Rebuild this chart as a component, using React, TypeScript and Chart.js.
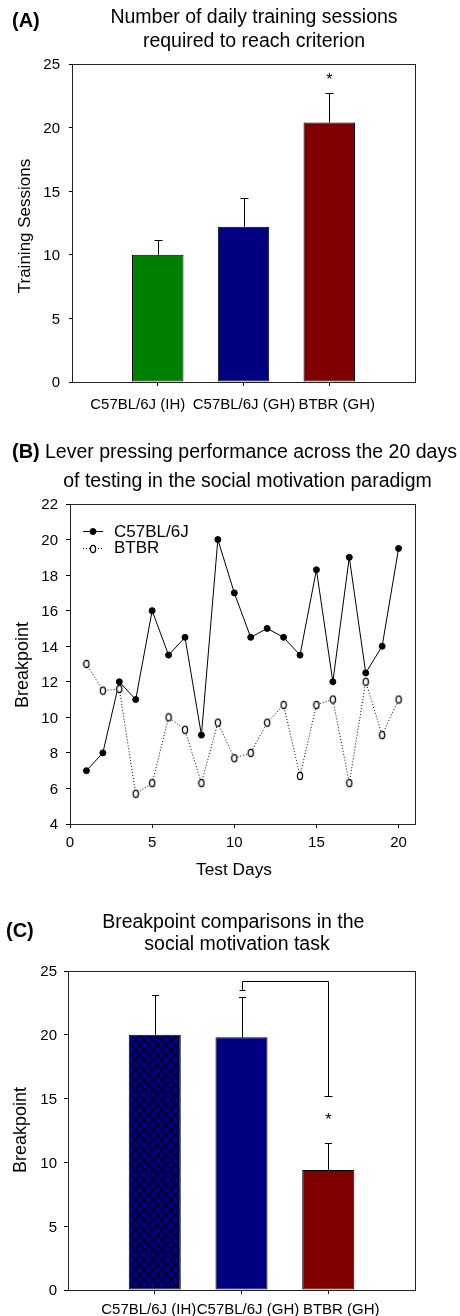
import React, { useEffect, useRef } from 'react';
import { Chart, registerables } from 'chart.js';

Chart.register(...registerables);

const FONT = '"Liberation Sans", Arial, Helvetica, sans-serif';

// ---------- shared categories ----------
const groups = ['C57BL/6J (IH)', 'C57BL/6J (GH)', 'BTBR (GH)'];
const groupPositions = [1, 2, 3];
const barColorsA = ['#008000', '#000080', '#800000'];

// ---------- panel A ----------
const sessionsMean = [10.0, 12.2, 20.4];
const sessionsUpper = [11.15, 14.45, 22.7];
const sessionsTicks = [0, 5, 10, 15, 20, 25];
const sessionsStar = [3, 24.05];

// ---------- panel B ----------
const testDays = [1, 2, 3, 4, 5, 6, 7, 8, 9, 10, 11, 12, 13, 14, 15, 16, 17, 18, 19, 20];
const c57Breakpoint = [7, 8, 12, 11, 16, 13.5, 14.5, 9, 20, 17, 14.5, 15, 14.5, 13.5, 18.3, 12, 19, 12.5, 14, 19.5];
const btbrBreakpoint = [13, 11.5, 11.6, 5.7, 6.3, 10, 9.3, 6.3, 9.7, 7.7, 8, 9.7, 10.7, 6.7, 10.7, 11, 6.3, 12, 9, 11];
const dayTicks = [0, 5, 10, 15, 20];
const breakpointTicksB = [4, 6, 8, 10, 12, 14, 16, 18, 20, 22];
const seriesNames = ['C57BL/6J', 'BTBR'];

// ---------- panel C ----------
const breakpointMean = [20.0, 19.8, 9.4];
const breakpointUpper = [23.1, 22.95, 11.5];
const breakpointTicksC = [0, 5, 10, 15, 20, 25];
const bracketGroups = [2, 3];
const bracketTop = 24.2;
const bracketEnds = [23.5, 15.2];
const breakpointStar = [3, 13.65];

// ---------- helpers ----------
function drawText(
  ctx: CanvasRenderingContext2D,
  s: string,
  x: number,
  y: number,
  size: number,
  align: CanvasTextAlign = 'center',
  bold = false,
  rotate = false
) {
  ctx.save();
  ctx.font = `${bold ? 'bold ' : ''}${size}px ${FONT}`;
  ctx.fillStyle = '#000';
  ctx.textAlign = align;
  ctx.textBaseline = 'alphabetic';
  ctx.translate(x, y);
  if (rotate) ctx.rotate(-Math.PI / 2);
  ctx.fillText(s, 0, 0);
  ctx.restore();
}

function drawFrame(chart: any) {
  const { left, top, right, bottom } = chart.chartArea;
  const ctx = chart.ctx as CanvasRenderingContext2D;
  ctx.save();
  ctx.strokeStyle = '#222';
  ctx.lineWidth = 1;
  ctx.strokeRect(Math.round(left) + 0.5, Math.round(top) + 0.5, Math.round(right - left), Math.round(bottom - top));
  ctx.restore();
}

function drawErrorBars(chart: any, positions: number[], means: number[], uppers: number[], capHalf: number) {
  const ctx = chart.ctx as CanvasRenderingContext2D;
  const xs = chart.scales.x;
  const ys = chart.scales.y;
  ctx.save();
  ctx.strokeStyle = '#000';
  ctx.lineWidth = 1;
  positions.forEach((p, i) => {
    const x = Math.round(xs.getPixelForValue(p)) + 0.5;
    const y0 = ys.getPixelForValue(means[i]);
    const y1 = Math.round(ys.getPixelForValue(uppers[i])) + 0.5;
    ctx.beginPath();
    ctx.moveTo(x, y0);
    ctx.lineTo(x, y1);
    ctx.moveTo(x - capHalf, y1);
    ctx.lineTo(x + capHalf, y1);
    ctx.stroke();
  });
  ctx.restore();
}

function axis(min: number, max: number, ticks: number[], size: number, tickLength: number) {
  return {
    type: 'linear' as const,
    min,
    max,
    offset: false,
    grid: {
      display: true,
      drawOnChartArea: false,
      drawTicks: true,
      tickLength,
      color: '#000',
      lineWidth: 1,
      offset: false,
    },
    border: { display: false },
    ticks: { display: false },
    afterBuildTicks: (s: any) => {
      s.ticks = ticks.map((v) => ({ value: v }));
    },
    afterFit: (s: any) => {
      if (s.isHorizontal()) s.height = size;
      else s.width = size;
    },
  };
}

function makeOpenMarker() {
  const c = document.createElement('canvas');
  c.width = 8;
  c.height = 10;
  const g = c.getContext('2d')!;
  g.beginPath();
  g.ellipse(4, 5, 2.6, 3.6, 0, 0, Math.PI * 2);
  g.fillStyle = '#fff';
  g.fill();
  g.strokeStyle = '#000';
  g.lineWidth = 1.3;
  g.stroke();
  return c;
}

function makeHatch(ctx: CanvasRenderingContext2D) {
  const w = 9;
  const h = 10;
  const c = document.createElement('canvas');
  c.width = w;
  c.height = h;
  const g = c.getContext('2d')!;
  g.fillStyle = '#000080';
  g.fillRect(0, 0, w, h);
  g.strokeStyle = '#000';
  g.lineWidth = 1.1;
  for (const dx of [-w, 0, w]) {
    g.beginPath();
    g.moveTo(dx, 0);
    g.lineTo(dx + w, h);
    g.moveTo(dx + w, 0);
    g.lineTo(dx, h);
    g.stroke();
  }
  return ctx.createPattern(c, 'repeat');
}

// ---------- panel A ----------
function makeA(canvas: HTMLCanvasElement) {
  const labelShift = [-20, 0.5, 7.5];
  return new Chart(canvas, {
    type: 'bar',
    data: {
      datasets: [
        {
          data: groupPositions.map((x, i) => ({ x, y: sessionsMean[i] })),
          backgroundColor: barColorsA,
          borderColor: '#000',
          borderWidth: 1,
          borderSkipped: false,
          categoryPercentage: 0.6,
          barPercentage: 1,
        } as any,
      ],
    },
    options: {
      responsive: false,
      animation: false,
      events: [],
      layout: { padding: { left: 0, top: 64, right: 45, bottom: 0 } },
      plugins: { legend: { display: false }, tooltip: { enabled: false }, title: { display: false } },
      scales: {
        x: axis(0, 4, groupPositions, 38, 4) as any,
        y: axis(0, 25, sessionsTicks, 72, 3) as any,
      },
    },
    plugins: [
      {
        id: 'panelA',
        afterDraw(chart: any) {
          const ctx = chart.ctx as CanvasRenderingContext2D;
          const xs = chart.scales.x;
          const ys = chart.scales.y;
          drawFrame(chart);
          drawErrorBars(chart, groupPositions, sessionsMean, sessionsUpper, 4);
          sessionsTicks.forEach((v) => drawText(ctx, String(v), 60, ys.getPixelForValue(v) + 5.4, 15, 'right'));
          groupPositions.forEach((p, i) =>
            drawText(ctx, groups[i], xs.getPixelForValue(p) + labelShift[i], 409.3, 15)
          );
          drawText(ctx, '(A)', 12, 26.5, 20, 'left', true);
          drawText(ctx, 'Number of daily training sessions', 254, 22.7, 19.5);
          drawText(ctx, 'required to reach criterion', 254, 46.5, 19.5);
          drawText(ctx, 'Training Sessions', 29.5, 226, 17, 'center', false, true);
          drawText(
            ctx,
            '*',
            xs.getPixelForValue(sessionsStar[0]),
            ys.getPixelForValue(sessionsStar[1]) + 9.3,
            16
          );
        },
      },
    ],
  });
}

// ---------- panel B ----------
function makeB(canvas: HTMLCanvasElement) {
  const openMarker = makeOpenMarker();
  const off = 420;
  return new Chart(canvas, {
    type: 'line',
    data: {
      datasets: [
        {
          label: seriesNames[1],
          data: testDays.map((d, i) => ({ x: d, y: btbrBreakpoint[i] })),
          borderColor: '#000',
          borderWidth: 1,
          borderDash: [1, 2],
          pointStyle: openMarker as any,
          pointRadius: 3.5,
          tension: 0,
          fill: false,
        },
        {
          label: seriesNames[0],
          data: testDays.map((d, i) => ({ x: d, y: c57Breakpoint[i] })),
          borderColor: '#000',
          borderWidth: 1,
          pointStyle: 'circle',
          pointRadius: 3,
          pointBackgroundColor: '#000',
          pointBorderColor: '#000',
          pointBorderWidth: 1,
          tension: 0,
          fill: false,
        },
      ],
    },
    options: {
      responsive: false,
      animation: false,
      events: [],
      layout: { padding: { left: 0, top: 84, right: 45, bottom: 0 } },
      plugins: { legend: { display: false }, tooltip: { enabled: false }, title: { display: false } },
      scales: {
        x: axis(0, 21, dayTicks, 66, 4) as any,
        y: axis(4, 22, breakpointTicksB, 70, 4) as any,
      },
    },
    plugins: [
      {
        id: 'panelB',
        afterDraw(chart: any) {
          const ctx = chart.ctx as CanvasRenderingContext2D;
          const xs = chart.scales.x;
          const ys = chart.scales.y;
          drawFrame(chart);
          breakpointTicksB.forEach((v) => drawText(ctx, String(v), 58, ys.getPixelForValue(v) + 5.4, 15, 'right'));
          dayTicks.forEach((v) => drawText(ctx, String(v), xs.getPixelForValue(v), 847.3 - off, 15));
          drawText(ctx, '(B)', 12, 458.3 - off, 20, 'left', true);
          drawText(ctx, 'Lever pressing performance across the 20 days', 45, 458.3 - off, 19.5, 'left');
          drawText(ctx, 'of testing in the social motivation paradigm', 247.5, 486.7 - off, 19.5);
          drawText(ctx, 'Test Days', 234, 875 - off, 17.3);
          drawText(ctx, 'Breakpoint', 27.5, 665 - off, 18, 'center', false, true);

          // legend
          ctx.save();
          ctx.strokeStyle = '#000';
          ctx.lineWidth = 1;
          const y1 = 531.5 - off;
          const y2 = 548.5 - off;
          ctx.beginPath();
          ctx.moveTo(83, y1);
          ctx.lineTo(103, y1);
          ctx.stroke();
          ctx.setLineDash([1, 2]);
          ctx.beginPath();
          ctx.moveTo(83, y2);
          ctx.lineTo(103, y2);
          ctx.stroke();
          ctx.setLineDash([]);
          ctx.beginPath();
          ctx.arc(93, y1, 3, 0, Math.PI * 2);
          ctx.fillStyle = '#000';
          ctx.fill();
          ctx.stroke();
          ctx.drawImage(openMarker, 93 - 4, Math.round(y2 - 5));
          ctx.restore();
          drawText(ctx, seriesNames[0], 114, 536.7 - off, 17, 'left');
          drawText(ctx, seriesNames[1], 114, 553.3 - off, 17, 'left');
        },
      },
    ],
  });
}

// ---------- panel C ----------
function makeC(canvas: HTMLCanvasElement) {
  const off = 890;
  const ctx0 = canvas.getContext('2d')!;
  const hatch = makeHatch(ctx0);
  const labelShift = [-6, 6.5, 13];
  return new Chart(canvas, {
    type: 'bar',
    data: {
      datasets: [
        {
          data: groupPositions.map((x, i) => ({ x, y: breakpointMean[i] })),
          backgroundColor: [hatch, '#000080', '#800000'],
          borderColor: '#000',
          borderWidth: 1,
          borderSkipped: false,
          categoryPercentage: 0.6,
          barPercentage: 1,
        } as any,
      ],
    },
    options: {
      responsive: false,
      animation: false,
      events: [],
      layout: { padding: { left: 0, top: 81, right: 45, bottom: 0 } },
      plugins: { legend: { display: false }, tooltip: { enabled: false }, title: { display: false } },
      scales: {
        x: axis(0, 4, groupPositions, 26, 4) as any,
        y: axis(0, 25, breakpointTicksC, 68, 4) as any,
      },
    },
    plugins: [
      {
        id: 'panelC',
        afterDraw(chart: any) {
          const ctx = chart.ctx as CanvasRenderingContext2D;
          const xs = chart.scales.x;
          const ys = chart.scales.y;
          drawFrame(chart);
          drawErrorBars(chart, groupPositions, breakpointMean, breakpointUpper, 3.5);

          // significance bracket
          const xa = Math.round(xs.getPixelForValue(bracketGroups[0])) + 0.5;
          const xb = Math.round(xs.getPixelForValue(bracketGroups[1])) + 0.5;
          const yt = Math.round(ys.getPixelForValue(bracketTop)) + 0.5;
          const ya = Math.round(ys.getPixelForValue(bracketEnds[0])) + 0.5;
          const yb = Math.round(ys.getPixelForValue(bracketEnds[1])) + 0.5;
          ctx.save();
          ctx.strokeStyle = '#000';
          ctx.lineWidth = 1;
          ctx.beginPath();
          ctx.moveTo(xa, ya);
          ctx.lineTo(xa, yt);
          ctx.lineTo(xb, yt);
          ctx.lineTo(xb, yb);
          ctx.moveTo(xa - 3, ya);
          ctx.lineTo(xa + 3, ya);
          ctx.moveTo(xb - 4, yb);
          ctx.lineTo(xb + 4, yb);
          ctx.stroke();
          ctx.restore();

          breakpointTicksC.forEach((v) => drawText(ctx, String(v), 57, ys.getPixelForValue(v) + 5.4, 15, 'right'));
          groupPositions.forEach((p, i) =>
            drawText(ctx, groups[i], xs.getPixelForValue(p) + labelShift[i], 1314 - off, 15)
          );
          drawText(ctx, '(C)', 6, 936.5 - off, 20, 'left', true);
          drawText(ctx, 'Breakpoint comparisons in the', 233.3, 928.3 - off, 19.5);
          drawText(ctx, 'social motivation task', 237, 950 - off, 19.5);
          drawText(ctx, 'Breakpoint', 25.7, 1130 - off, 18, 'center', false, true);
          drawText(
            ctx,
            '*',
            xs.getPixelForValue(breakpointStar[0]),
            ys.getPixelForValue(breakpointStar[1]) + 9.3,
            16
          );
        },
      },
    ],
  });
}

export default function App() {
  const aRef = useRef<HTMLCanvasElement>(null);
  const bRef = useRef<HTMLCanvasElement>(null);
  const cRef = useRef<HTMLCanvasElement>(null);

  useEffect(() => {
    const charts = [makeA(aRef.current!), makeB(bRef.current!), makeC(cRef.current!)];
    return () => charts.forEach((c) => c.destroy());
  }, []);

  return (
    <div
      style={{
        position: 'absolute',
        left: 0,
        top: 0,
        width: 460,
        height: 1316,
        background: '#fff',
        overflow: 'hidden',
      }}
    >
      <canvas ref={aRef} width={460} height={420} style={{ position: 'absolute', left: 0, top: 0, width: 460, height: 420 }} />
      <canvas ref={bRef} width={460} height={470} style={{ position: 'absolute', left: 0, top: 420, width: 460, height: 470 }} />
      <canvas ref={cRef} width={460} height={426} style={{ position: 'absolute', left: 0, top: 890, width: 460, height: 426 }} />
    </div>
  );
}
